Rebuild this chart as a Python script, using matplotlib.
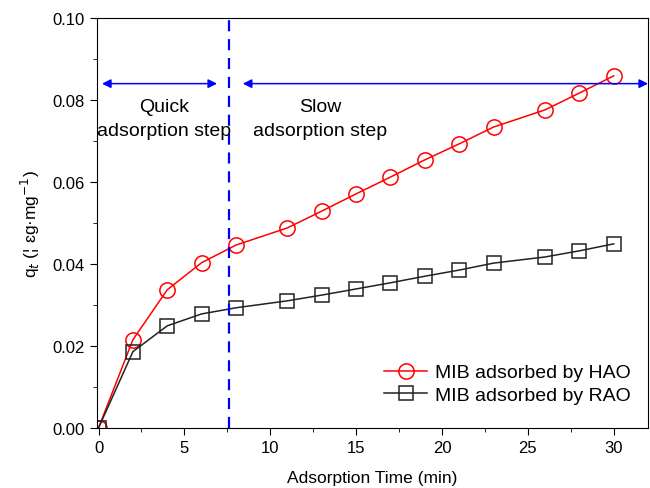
import matplotlib
matplotlib.use("Agg")
import matplotlib.pyplot as plt
from matplotlib.ticker import MultipleLocator

plt.rcParams['font.family'] = ['Liberation Sans', 'DejaVu Sans']

# datos
t = [0, 2, 4, 6, 8, 11, 13, 15, 17, 19, 21, 23, 26, 28, 30]
hao = [0.0, 0.0215, 0.0337, 0.0403, 0.0446, 0.0488, 0.0529, 0.0571, 0.0612,
       0.0654, 0.0693, 0.0734, 0.0776, 0.0817, 0.0859]
rao = [0.0, 0.0186, 0.0249, 0.0278, 0.0293, 0.0310, 0.0324, 0.0339, 0.0354,
       0.0370, 0.0385, 0.0402, 0.0417, 0.0432, 0.0449]
t_split = 7.6
y_arrow = 0.084

fig = plt.figure(figsize=(6.5, 4.89), dpi=100)
ax = fig.add_axes([0.149, 0.123, 0.848, 0.838])

ax.plot(t, hao, color='red', lw=1.1, marker='o', ms=11, mfc='none', mec='red',
        mew=1.1, label='MIB adsorbed by HAO')
ax.plot(t, rao, color='#222222', lw=1.1, marker='s', ms=10, mfc='none', mec='#222222',
        mew=1.1, label='MIB adsorbed by RAO')

# linea divisoria
ax.axvline(t_split, color='blue', ls=(0, (5, 3.5)), lw=1.6)

# flechas
ax.annotate('', xy=(0.2, y_arrow), xytext=(6.9, y_arrow),
            arrowprops=dict(arrowstyle='<|-|>', color='blue', lw=1.1,
                            mutation_scale=13, shrinkA=0, shrinkB=0))
ax.annotate('', xy=(8.4, y_arrow), xytext=(32, y_arrow),
            arrowprops=dict(arrowstyle='<|-|>', color='blue', lw=1.1,
                            mutation_scale=13, shrinkA=0, shrinkB=0))

ax.text(3.8, 0.0755, 'Quick\nadsorption step', ha='center', va='center',
        fontsize=14, linespacing=1.5)
ax.text(12.9, 0.0755, 'Slow\nadsorption step', ha='center', va='center',
        fontsize=14, linespacing=1.5)

ax.set_xlim(-0.1, 32)
ax.set_ylim(0, 0.10)
ax.xaxis.set_major_locator(MultipleLocator(5))
ax.xaxis.set_minor_locator(MultipleLocator(2.5))
ax.yaxis.set_major_locator(MultipleLocator(0.02))
ax.yaxis.set_minor_locator(MultipleLocator(0.01))
ax.yaxis.set_major_formatter(plt.FormatStrFormatter('%.2f'))
ax.tick_params(which='major', direction='out', length=5, labelsize=12)
ax.tick_params(which='minor', direction='out', length=3)

ax.set_xlabel('Adsorption Time (min)', fontsize=12.5, labelpad=11)
ax.set_ylabel('q$_t$ (¦ ɛg·mg$^{-1}$)', fontsize=12.5, labelpad=8)

ax.legend(loc='lower right', bbox_to_anchor=(1.0, 0.016), frameon=False,
          fontsize=14, handlelength=2.2, handletextpad=0.4, labelspacing=0.25)

fig.savefig('out.png', dpi=100)
